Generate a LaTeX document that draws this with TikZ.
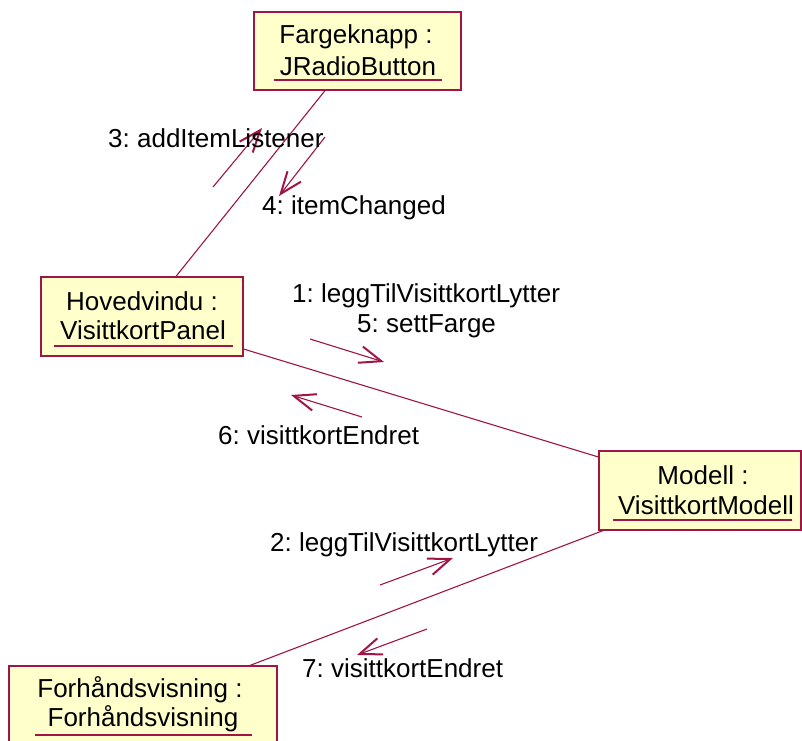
\documentclass[tikz,border=0pt]{standalone}
\usepackage{fontspec}
\setmainfont{Liberation Sans}
\usetikzlibrary{arrows.meta}
\definecolor{umlline}{RGB}{160,20,70}
\definecolor{umlfill}{RGB}{255,255,204}
\frenchspacing
\begin{document}
\begin{tikzpicture}[x=1pt,y=-1pt,
  obj/.style={draw=umlline, fill=umlfill, line width=1.2pt, inner sep=0},
  link/.style={draw=umlline, line width=1.1pt},
  msg/.style={draw=umlline, line width=1.1pt,
    -{Straight Barb[length=22pt,width=17pt,line width=2pt]}},
  lbl/.style={font=\fontsize{26}{30}\selectfont, inner sep=0, anchor=center},
  uline/.style={draw=umlline, line width=1.2pt}
]
\useasboundingbox (0,0) rectangle (802,740);

% objects
\node[obj, minimum width=207pt, minimum height=78pt] (farge) at (357.5,51) {};
\node[lbl] (fargeA) at (356,37) {Fargeknapp :};
\node[lbl] (fargeB) at (358,66) {JRadioButton};
\draw[uline] (274,80) -- (442,80);

\node[obj, minimum width=202pt, minimum height=79pt] (hoved) at (142,316.5) {};
\node[lbl] (hovedA) at (142,301) {Hovedvindu :};
\node[lbl] (hovedB) at (143,330) {VisittkortPanel};
\draw[uline] (54,346) -- (233,346);

\node[obj, minimum width=202pt, minimum height=79pt] (model) at (700,490.5) {};
\node[lbl] (modelA) at (703,475) {Modell :};
\node[lbl] (modelB) at (706,505) {VisittkortModell};
\draw[uline] (613,520) -- (792,520);

\node[obj, minimum width=268pt, minimum height=80pt] (forh) at (143,706) {};
\node[lbl] (forhA) at (140,690) {Forhåndsvisning :};
\node[lbl] (forhB) at (143,719) {Forhåndsvisning};
\draw[uline] (35,735) -- (252,735);

% links
\draw[link] ([xshift=-32.5pt]farge.south) -- ([xshift=34pt]hoved.north);
\draw[link] ([yshift=-32.5pt]hoved.east) -- ([yshift=33.5pt]model.west);
\draw[link] ([xshift=-97pt]model.south) -- ([xshift=107pt]forh.north);

% messages
\coordinate (m3a) at (213,187); \coordinate (m3b) at (262,128);
\coordinate (m4a) at (325,137); \coordinate (m4b) at (279,196);
\coordinate (m1a) at (310,339); \coordinate (m1b) at (384,362);
\coordinate (m6a) at (362,417); \coordinate (m6b) at (291,395);
\coordinate (m2a) at (380,585); \coordinate (m2b) at (453,558);
\coordinate (m7a) at (427,629); \coordinate (m7b) at (357,655);
\draw[msg] (m3a) -- (m3b);
\draw[msg] (m4a) -- (m4b);
\draw[msg] (m1a) -- (m1b);
\draw[msg] (m6a) -- (m6b);
\draw[msg] (m2a) -- (m2b);
\draw[msg] (m7a) -- (m7b);

% message labels
\node[lbl, anchor=west] (l3) at (108,138) {3: addItemListener};
\node[lbl, anchor=west] (l4) at (262,208) {4: itemChanged};
\node[lbl, anchor=west] (l1) at (292,296) {1: leggTilVisittkortLytter};
\node[lbl, anchor=west] (l5) at (357,326) {5: settFarge};
\node[lbl, anchor=west] (l6) at (218,435) {6: visittkortEndret};
\node[lbl, anchor=west] (l2) at (270,545) {2: leggTilVisittkortLytter};
\node[lbl, anchor=west] (l7) at (302,668) {7: visittkortEndret};
\end{tikzpicture}
\end{document}
